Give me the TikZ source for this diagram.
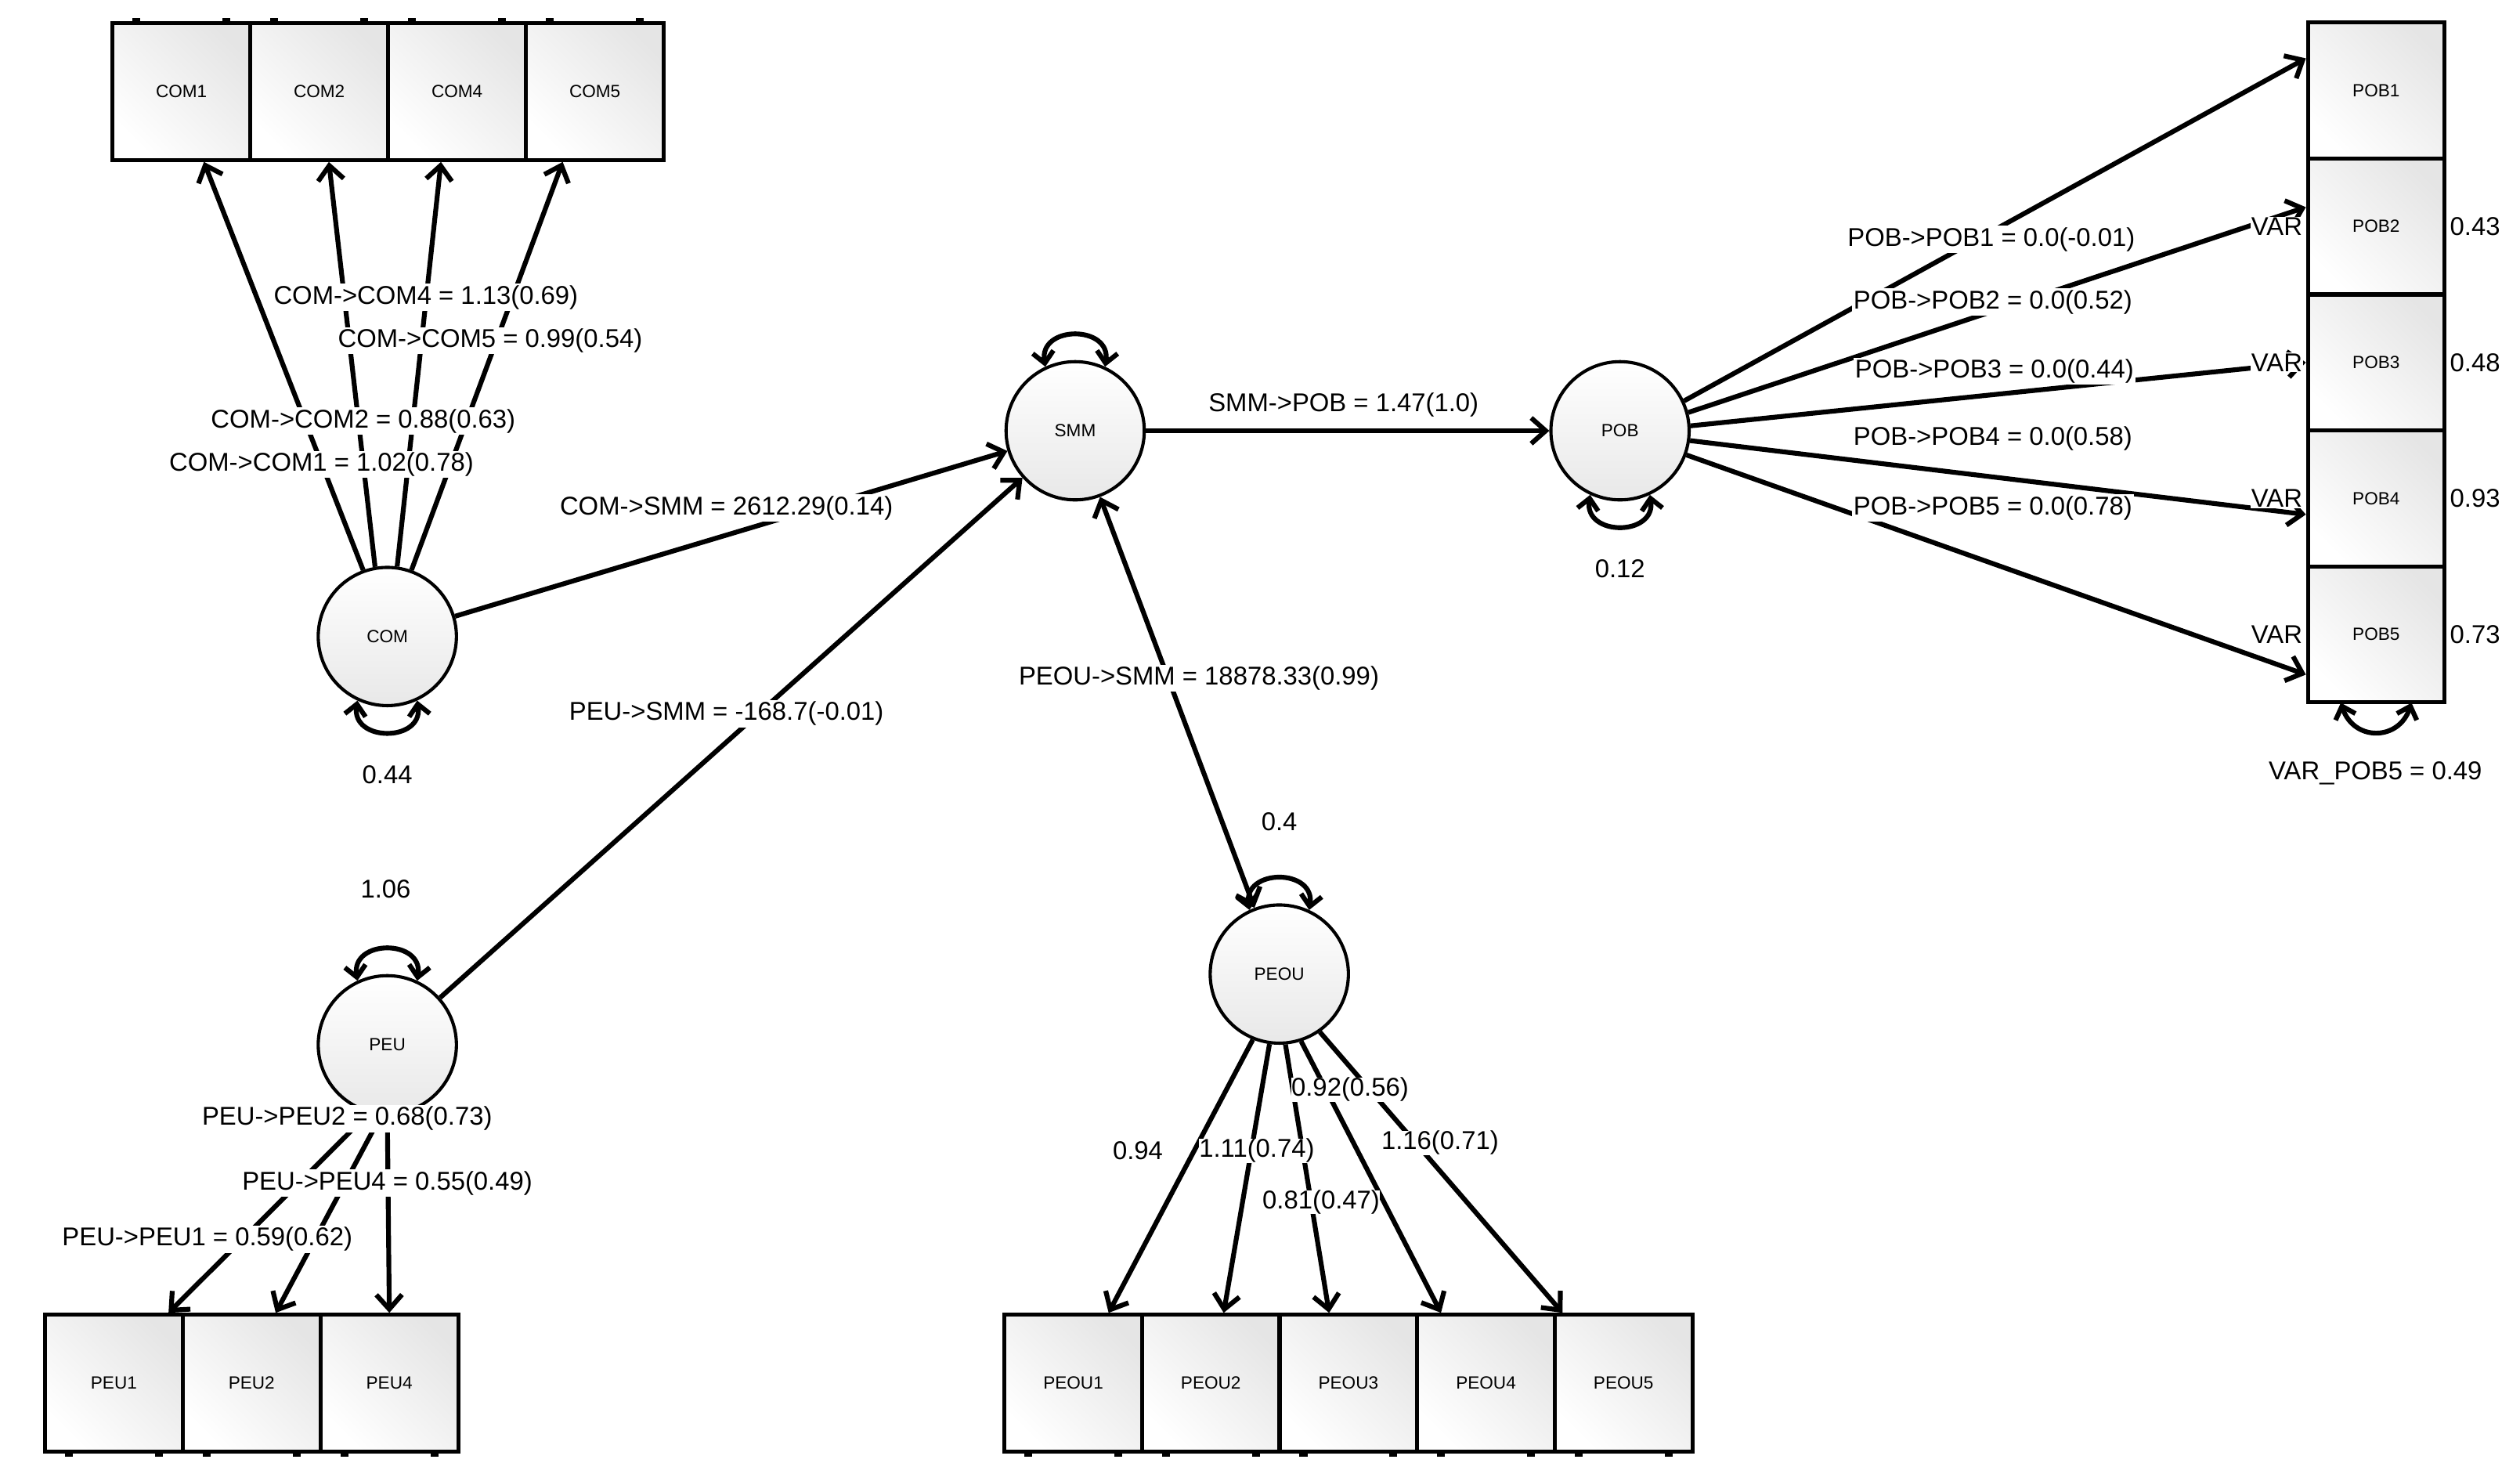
\documentclass[tikz,border=0pt]{standalone}
\usepackage{fontspec}
\setmainfont{Liberation Sans}
\usetikzlibrary{arrows.meta}
\begin{document}
\begin{tikzpicture}[x=1pt,y=-1pt,
  latent/.style={circle,draw,line width=2pt,minimum size=86pt,inner sep=0pt,top color=white,bottom color=gray!18,font=\fontsize{11}{11}\selectfont},
  obs/.style={rectangle,draw,line width=2.5pt,minimum width=85.7pt,minimum height=85pt,inner sep=0pt,top color=white,bottom color=gray!20,shading angle=135,font=\fontsize{11}{11}\selectfont},
  arr/.style={line width=3pt,-{Straight Barb[length=9pt,width=16pt]}},
  darr/.style={line width=3pt,{Straight Barb[length=9pt,width=16pt]}-{Straight Barb[length=9pt,width=16pt]}},
  lp/.style={line width=3pt,{Straight Barb[length=7pt,width=13pt]}-{Straight Barb[length=7pt,width=13pt]}},
  lab/.style={fill=white,inner sep=1pt,font=\fontsize{16}{16}\selectfont},
  txt/.style={inner sep=1pt,font=\fontsize{16}{16}\selectfont},
  tick/.style={line width=5pt}]
\useasboundingbox[fill=white] (0,0) rectangle (1568,921.4);
% observed boxes
\foreach \n [count=\i from 0] in {COM1,COM2,COM4,COM5}
  \node[obs] (\n) at (70+85.75*\i+42.875,57) {\n};
\foreach \n [count=\i from 0] in {POB1,POB2,POB3,POB4,POB5}
  \node[obs,minimum width=85pt,minimum height=84.6pt] (\n) at (1478.5,14+84.6*\i+42.3) {\n};
\foreach \n [count=\i from 0] in {PEU1,PEU2,PEU4}
  \node[obs] (\n) at (28+85.7*\i+42.85,860.5) {\n};
\foreach \n [count=\i from 0] in {PEOU1,PEOU2,PEOU3,PEOU4,PEOU5}
  \node[obs,minimum width=85.6pt] (\n) at (625+85.6*\i+42.8,860.5) {\n};
% ticks
\foreach \n in {COM1,COM2,COM4,COM5}{
  \draw[tick] ([xshift=-28pt,yshift=2pt]\n.north) -- ([xshift=-28pt,yshift=-1pt]\n.north);
  \draw[tick] ([xshift=28pt,yshift=2pt]\n.north) -- ([xshift=28pt,yshift=-1pt]\n.north);}
\foreach \n in {PEU1,PEU2,PEU4,PEOU1,PEOU2,PEOU3,PEOU4,PEOU5}{
  \draw[tick] ([xshift=-28pt,yshift=-2pt]\n.south) -- ([xshift=-28pt,yshift=1pt]\n.south);
  \draw[tick] ([xshift=28pt,yshift=-2pt]\n.south) -- ([xshift=28pt,yshift=1pt]\n.south);}
% latent
\node[latent] (COM) at (241,396) {COM};
\node[latent] (SMM) at (669,268) {SMM};
\node[latent] (POB) at (1008,268) {POB};
\node[latent] (PEU) at (241,650) {PEU};
\node[latent,minimum width=84pt,minimum height=86pt] (PEOU) at (796,606) {PEOU};
% COM loadings
\draw[arr] (COM.110) -- ([xshift=14pt]COM1.south);
\draw[arr] (COM.100) -- ([xshift=6pt]COM2.south);
\draw[arr] (COM.82) -- ([xshift=-10pt]COM4.south);
\draw[arr] (COM.70) -- ([xshift=-20pt]COM5.south);
\node[lab] (l1) at (265,185) {COM->COM4 = 1.13(0.69)};
\node[lab] (l2) at (305,212) {COM->COM5 = 0.99(0.54)};
\node[lab] (l3) at (226,262) {COM->COM2 = 0.88(0.63)};
\node[lab] (l4) at (200,289) {COM->COM1 = 1.02(0.78)};
% structural
\draw[arr] (COM) -- (SMM);
\node[lab] (l5) at (452,316) {COM->SMM = 2612.29(0.14)};
\draw[arr] (PEU) -- (SMM);
\node[lab] (l6) at (452,444) {PEU->SMM = -168.7(-0.01)};
\draw[darr] (SMM) -- (PEOU);
\node[lab] (l7) at (746,422) {PEOU->SMM = 18878.33(0.99)};
\draw[arr] (SMM) -- (POB);
\node[txt] (l8) at (836,252) {SMM->POB = 1.47(1.0)};
% POB loadings
\draw[arr] (POB.25) -- ([yshift=20pt]POB1.west);
\draw[arr] (POB.15) -- ([yshift=12pt]POB2.west);
\draw[arr] (POB.4) -- (POB3.west);
\draw[arr] (POB.-8) -- ([yshift=-10pt]POB4.west);
\draw[arr] (POB.-20) -- ([yshift=-25pt]POB5.west);
\node[lab] (m1) at (1239,149) {POB->POB1 = 0.0(-0.01)};
\node[lab] (m2) at (1240,188) {POB->POB2 = 0.0(0.52)};
\node[lab] (m3) at (1241,231) {POB->POB3 = 0.0(0.44)};
\node[lab] (m4) at (1240,273) {POB->POB4 = 0.0(0.58)};
\node[lab] (m5) at (1240,316) {POB->POB5 = 0.0(0.78)};
\foreach \n/\v in {POB2/0.43,POB3/0.48,POB4/0.93,POB5/0.73}{
  \node[lab,anchor=east,inner sep=0.5pt] (v\n) at ([xshift=-1.5pt]\n.west) {VAR};
  \node[txt,anchor=west,inner sep=0.5pt] (r\n) at ([xshift=1.5pt]\n.east) {\v};}
\draw[lp] ([xshift=-22pt,yshift=1pt]POB5.south) .. controls +(8,24) and +(-8,24) .. ([xshift=22pt,yshift=1pt]POB5.south);
\node[txt] (m6) at (1478,481) {VAR\_POB5 = 0.49};
% PEU loadings
\draw[arr] (PEU.-105) -- ([xshift=34pt]PEU1.north);
\draw[arr] (PEU.-95) -- ([xshift=15pt]PEU2.north);
\draw[arr] (PEU.-90) -- (PEU4.north);
\node[lab] (p1) at (216,696) {PEU->PEU2 = 0.68(0.73)};
\node[lab] (p2) at (241,736) {PEU->PEU4 = 0.55(0.49)};
\node[lab] (p3) at (129,771) {PEU->PEU1 = 0.59(0.62)};
% PEOU loadings
\draw[arr] (PEOU.-112) -- ([xshift=22pt]PEOU1.north);
\draw[arr] (PEOU.-98) -- ([xshift=8pt]PEOU2.north);
\draw[arr] (PEOU.-85) -- ([xshift=-12pt]PEOU3.north);
\draw[arr] (PEOU.-72) -- ([xshift=-28pt]PEOU4.north);
\draw[arr] (PEOU.-55) -- ([xshift=-38pt]PEOU5.north);
\node[lab,inner sep=0pt] (q4) at (840,678) {0.92(0.56)};
\node[lab,inner sep=0pt] (q1) at (708,716) {0.94};
\node[lab,inner sep=0pt] (q2) at (782,716) {1.11(0.74)};
\node[lab,inner sep=0pt] (q5) at (896,711) {1.16(0.71)};
\node[lab,inner sep=0pt] (q3) at (822,748) {0.81(0.47)};
% self loops
\draw[lp] (COM.-115) .. controls +(-4,26) and +(4,26) .. (COM.-65);
\node[txt] (e1) at (241,482) {0.44};
\draw[lp] (SMM.115) .. controls +(-4,-26) and +(4,-26) .. (SMM.65);
\draw[lp] (POB.-115) .. controls +(-4,26) and +(4,26) .. (POB.-65);
\node[txt] (e2) at (1008,354) {0.12};
\draw[lp] (PEU.115) .. controls +(-4,-26) and +(4,-26) .. (PEU.65);
\node[txt] (e3) at (240,553) {1.06};
\draw[lp] (PEOU.115) .. controls +(-4,-26) and +(4,-26) .. (PEOU.65);
\node[txt] (e4) at (796,511) {0.4};
\end{tikzpicture}
\end{document}
